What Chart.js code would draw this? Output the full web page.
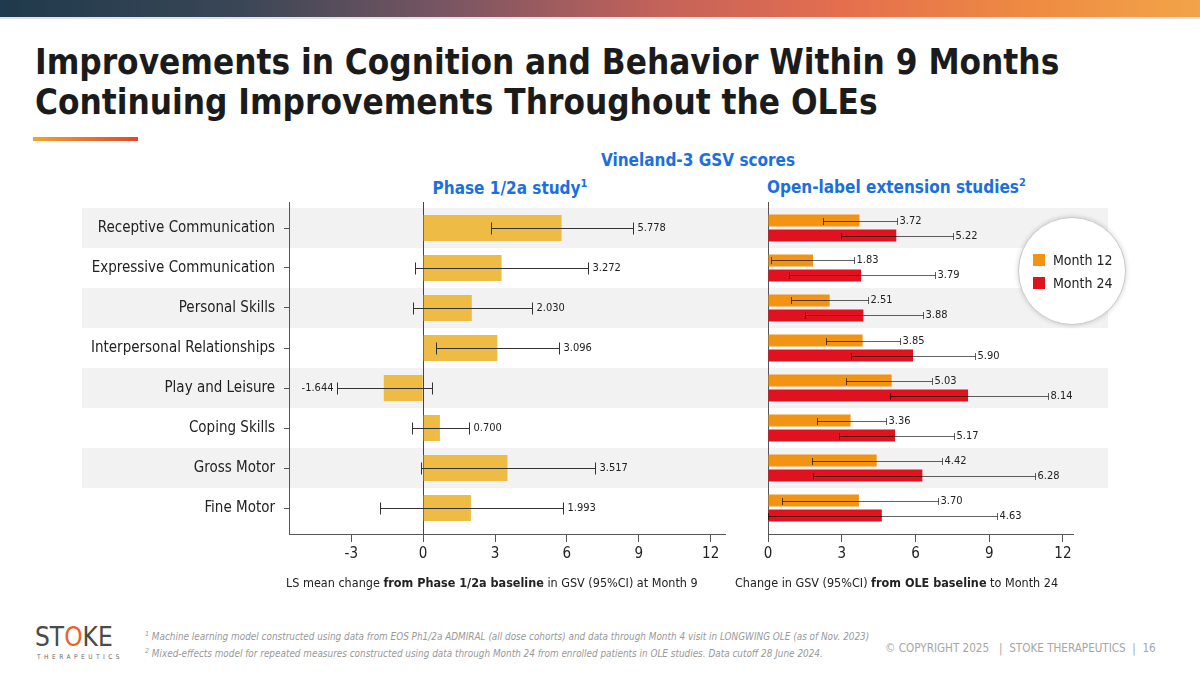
<!DOCTYPE html>
<html>
<head>
<meta charset="utf-8">
<script src="https://cdn.jsdelivr.net/npm/chart.js@4.4.1/dist/chart.umd.min.js"></script>
<style>
  body { margin: 0; width: 1200px; height: 675px; overflow: hidden; background: #fff; position: relative;
         font-family: "DejaVu Sans Condensed", "DejaVu Sans", sans-serif; color: #222; }
  .abs { position: absolute; }
  #topbar { left: 0; top: 0; width: 1200px; height: 17px;
            background: linear-gradient(90deg, #1f3a4c 0%, #3a4656 20%, #7c5662 38%, #c4625a 55%, #e46e4e 70%, #ee8b42 86%, #f2a449 100%); }
  #topline { left: 0; top: 17px; width: 1200px; height: 2px; background: #dce2e6; }
  h1 { position: absolute; left: 35px; top: 42px; margin: 0; font-size: 34.8px; line-height: 40px;
       font-weight: bold; color: #1b1b1b; white-space: nowrap; }
  #rule { left: 33px; top: 137px; width: 105px; height: 4px; background: linear-gradient(90deg, #f2a230, #e6452a); }
  .head { color: #1b6fe0; font-weight: bold; font-size: 17px; white-space: nowrap; }
  .head sup { font-size: 11px; }
  .axt { font-size: 12.5px; white-space: nowrap; color: #222; }
  #legend { left: 1018px; top: 217px; width: 108px; height: 108px; border-radius: 50%; background: #fff;
            border: 1px solid #c9c9c9; box-shadow: 0 0 5px rgba(0,0,0,0.18); box-sizing: border-box;
            display: flex; flex-direction: column; justify-content: center; padding-left: 14px; z-index: 2; }
  .li { display: flex; align-items: center; font-size: 14px; height: 23px; }
  .li span { width: 12px; height: 12px; margin-right: 8px; display: inline-block; }
  .foot { font-size: 9.9px; font-style: italic; color: #999; white-space: nowrap; }
  .foot sup { font-size: 7px; }
  #copy { left: 885px; top: 641px; font-size: 11.6px; color: #a6a6a6; white-space: nowrap; }
  #logo { left: 35px; top: 623px; font-size: 26px; color: #4a4a4a; line-height: 28px; }
  #logo b { color: #e8632c; font-weight: normal; }
  #tagline { left: 37px; top: 653px; font-size: 6.5px; letter-spacing: 3.5px; color: #666; }
</style>
</head>
<body>
<div id="topbar" class="abs"></div>
<div id="topline" class="abs"></div>
<h1>Improvements in Cognition and Behavior Within 9 Months<br>Continuing Improvements Throughout the OLEs</h1>
<div id="rule" class="abs"></div>

<div class="abs head" style="left:548px;top:150px;width:300px;text-align:center;">Vineland-3 GSV scores</div>
<div class="abs head" style="left:380px;top:177px;width:260px;text-align:center;">Phase 1/2a study<sup>1</sup></div>
<div class="abs head" style="left:767px;top:176px;">Open-label extension studies<sup>2</sup></div>

<div class="abs" style="left:80px;top:196px;width:665px;height:380px;"><canvas id="phaseChart"></canvas></div>
<div class="abs" style="left:745px;top:196px;width:363px;height:380px;"><canvas id="oleChart"></canvas></div>

<div class="abs axt" style="left:286px;top:575px;">LS mean change <b>from Phase 1/2a baseline</b> in GSV (95%CI) at Month 9</div>
<div class="abs axt" style="left:735px;top:575px;">Change in GSV (95%CI) <b>from OLE baseline</b> to Month 24</div>

<div id="legend" class="abs"></div>

<div id="logo" class="abs">ST<b>O</b>KE</div>
<div id="tagline" class="abs">THERAPEUTICS</div>
<div class="abs foot" style="left:145px;top:630px;"><sup>1</sup> Machine learning model constructed using data from EOS Ph1/2a ADMIRAL (all dose cohorts) and data through Month 4 visit in LONGWING OLE (as of Nov. 2023)</div>
<div class="abs foot" style="left:145px;top:647px;"><sup>2</sup> Mixed-effects model for repeated measures constructed using data through Month 24 from enrolled patients in OLE studies. Data cutoff 28 June 2024.</div>
<div id="copy" class="abs">© COPYRIGHT 2025 &nbsp;&nbsp;| &nbsp;STOKE THERAPEUTICS &nbsp;| &nbsp;16</div>

<script>
/* ── data ── */
const CATEGORIES = ['Receptive Communication', 'Expressive Communication', 'Personal Skills',
  'Interpersonal Relationships', 'Play and Leisure', 'Coping Skills', 'Gross Motor', 'Fine Motor'];

const PH_MEAN = [5.778, 3.272, 2.030, 3.096, -1.644, 0.700, 3.517, 1.993];
const PH_LO   = [2.82, -0.35, -0.44, 0.52, -3.61, -0.47, -0.11, -1.81];
const PH_HI   = [8.76, 6.90, 4.53, 5.69, 0.36, 1.91, 7.17, 5.83];

const M12_MEAN = [3.72, 1.83, 2.51, 3.85, 5.03, 3.36, 4.42, 3.70];
const M12_LO   = [2.24, 0.14, 0.95, 2.37, 3.19, 2.01, 1.79, 0.57];
const M12_HI   = [5.26, 3.50, 4.07, 5.36, 6.69, 4.79, 7.09, 6.92];

const M24_MEAN = [5.22, 3.79, 3.88, 5.90, 8.14, 5.17, 6.28, 4.63];
const M24_LO   = [2.96, 0.85, 1.49, 3.39, 4.95, 2.88, 1.83, 0.00];
const M24_HI   = [7.53, 6.78, 6.31, 8.44, 11.39, 7.55, 10.85, 9.33];

const PH_TICKS  = [-3, 0, 3, 6, 9, 12];
const OLE_TICKS = [0, 3, 6, 9, 12];

/* ── style ── */
const FONT = '"DejaVu Sans Condensed", "DejaVu Sans", sans-serif';
Chart.defaults.font.family = FONT;
Chart.defaults.color = '#222';
Chart.defaults.plugins.legend.display = false;
Chart.defaults.plugins.tooltip.enabled = false;

const GOLD = '#EEBB44';
const ORANGE = '#F39314';
const RED = '#E2111F';
const AXIS = '#555';
const BAND = '#f2f2f2';

const points = arr => arr.map((v, i) => ({ x: v, y: i }));

/* alternate grey row bands across the whole canvas */
const rowBands = {
  id: 'rowBands',
  beforeDraw(chart, args, opts) {
    const { ctx, scales: { y } } = chart;
    ctx.save();
    ctx.fillStyle = BAND;
    CATEGORIES.forEach((c, i) => {
      if (i % 2) return;
      const y0 = y.getPixelForValue(i - 0.5), y1 = y.getPixelForValue(i + 0.5);
      ctx.fillRect(opts.from, y0, chart.width - opts.from, y1 - y0);
    });
    ctx.restore();
  }
};

/* CI whiskers + value labels */
const errorBars = {
  id: 'errorBars',
  afterDatasetsDraw(chart, args, opts) {
    const { ctx, scales: { x } } = chart;
    chart.data.datasets.forEach((ds, di) => {
      const meta = chart.getDatasetMeta(di);
      meta.data.forEach((bar, i) => {
        const lo = Math.round(x.getPixelForValue(ds.lo[i])) + 0.5;
        const hi = Math.round(x.getPixelForValue(ds.hi[i])) + 0.5;
        const y = Math.round(bar.y) + 0.5, h = opts.cap / 2;
        ctx.save();
        ctx.strokeStyle = opts.color;
        ctx.lineWidth = 1;
        ctx.beginPath();
        ctx.moveTo(lo, y); ctx.lineTo(hi, y);
        ctx.moveTo(lo, y - h); ctx.lineTo(lo, y + h);
        ctx.moveTo(hi, y - h); ctx.lineTo(hi, y + h);
        ctx.stroke();
        const v = ds.data[i].x;
        ctx.fillStyle = '#222';
        ctx.font = opts.font + 'px ' + FONT;
        ctx.textBaseline = 'middle';
        if (v < 0) {
          ctx.textAlign = 'right';
          ctx.fillText(v.toFixed(opts.decimals), lo - opts.gap, y);
        } else {
          ctx.textAlign = 'left';
          ctx.fillText(v.toFixed(opts.decimals), hi + opts.gap, y);
        }
        ctx.restore();
      });
    });
  }
};

function yScale(showLabels) {
  return {
    type: 'linear', reverse: true, min: -0.65, max: 7.65, offset: false,
    afterBuildTicks: s => { s.ticks = CATEGORIES.map((c, i) => ({ value: i })); },
    afterFit: s => { s.width = showLabels ? 209 : 23; s.paddingTop = 0; s.paddingBottom = 0; },
    ticks: { display: showLabels, padding: 9, font: { size: 15 }, color: '#222', callback: v => CATEGORIES[v] },
    grid: { display: showLabels, offset: false, drawOnChartArea: false, tickLength: 5, tickColor: AXIS },
    border: { display: true, color: AXIS, width: 1 }
  };
}

function xScale(min, max, ticks, zeroLine) {
  return {
    type: 'linear', min, max,
    afterBuildTicks: s => { s.ticks = ticks.map(v => ({ value: v })); },
    afterFit: s => { s.height = 42; },
    ticks: { padding: 3, font: { size: 15 }, color: '#222' },
    grid: {
      drawOnChartArea: zeroLine,
      color: c => (c.tick && c.tick.value === 0 ? '#444' : 'rgba(0,0,0,0)'),
      tickColor: AXIS, tickLength: 8
    },
    border: { display: true, color: AXIS, width: 1 }
  };
}

/* ── Phase 1/2a ── */
new Chart(document.getElementById('phaseChart'), {
  type: 'bar',
  data: {
    datasets: [{
      label: 'Phase 1/2a', data: points(PH_MEAN), lo: PH_LO, hi: PH_HI,
      backgroundColor: GOLD, categoryPercentage: 0.65, barPercentage: 1.0
    }]
  },
  options: {
    indexAxis: 'y', responsive: true, maintainAspectRatio: false, animation: false,
    layout: { padding: { top: 6, right: 20, left: 0, bottom: 0 } },
    plugins: {
      rowBands: { from: 2 },
      errorBars: { cap: 12, color: '#333', font: 11, decimals: 3, gap: 4 }
    },
    scales: { x: xScale(-5.6, 12.6, PH_TICKS, true), y: yScale(true) }
  },
  plugins: [rowBands, errorBars]
});

/* ── OLE ── */
const oleChart = new Chart(document.getElementById('oleChart'), {
  type: 'bar',
  data: {
    datasets: [
      { label: 'Month 12', data: points(M12_MEAN), lo: M12_LO, hi: M12_HI,
        backgroundColor: ORANGE, categoryPercentage: 0.75, barPercentage: 0.8 },
      { label: 'Month 24', data: points(M24_MEAN), lo: M24_LO, hi: M24_HI,
        backgroundColor: RED, categoryPercentage: 0.75, barPercentage: 0.8 }
    ]
  },
  options: {
    indexAxis: 'y', responsive: true, maintainAspectRatio: false, animation: false,
    layout: { padding: { top: 6, right: 35, left: 0, bottom: 0 } },
    plugins: {
      rowBands: { from: 0 },
      errorBars: { cap: 7, color: 'rgba(0,0,0,0.62)', font: 11, decimals: 2, gap: 2 }
    },
    scales: { x: xScale(0, 12.41, OLE_TICKS, false), y: yScale(false) }
  },
  plugins: [rowBands, errorBars]
});

/* legend bubble built from the OLE datasets */
document.getElementById('legend').innerHTML = oleChart.data.datasets
  .map(ds => `<div class="li"><span style="background:${ds.backgroundColor}"></span>${ds.label}</div>`)
  .join('');
</script>
</body>
</html>
